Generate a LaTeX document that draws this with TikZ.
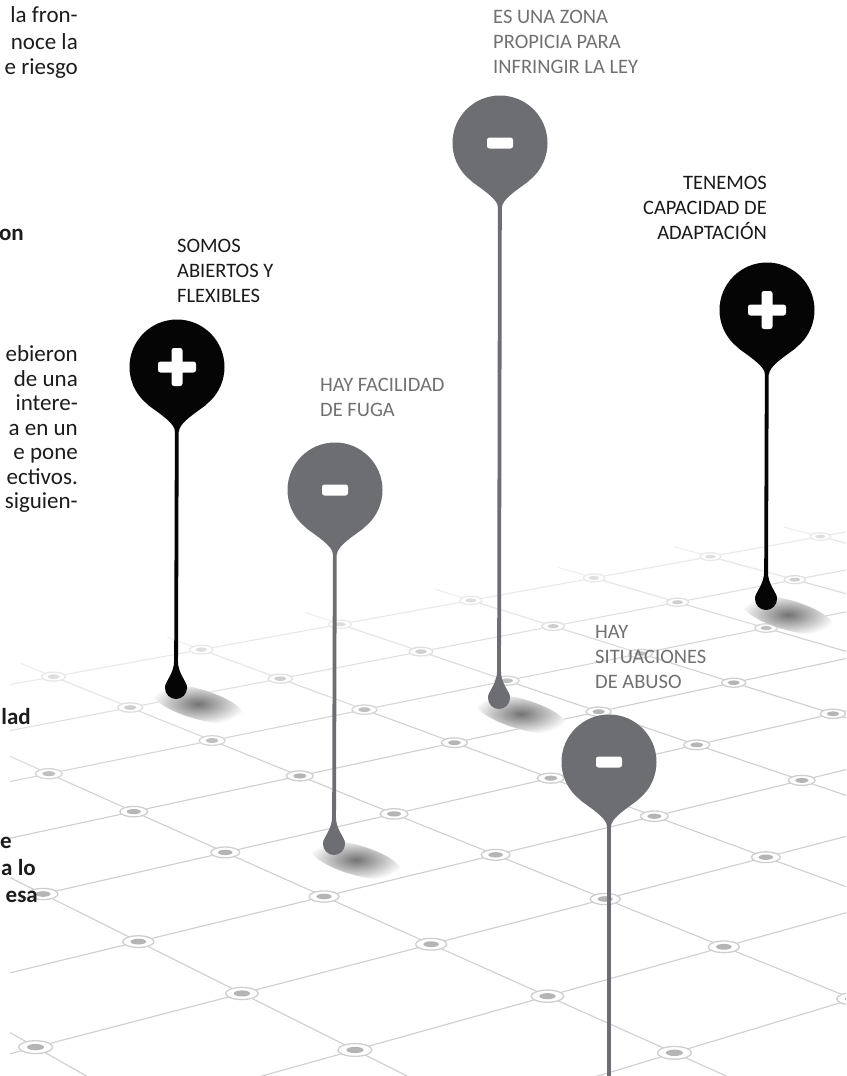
\documentclass[tikz,border=0pt]{standalone}
\usepackage{fontspec}
\setmainfont{Carlito}
\usetikzlibrary{positioning}

\definecolor{pinblack}{HTML}{050505}
\definecolor{pingray}{HTML}{6D6E71}
\definecolor{tagblack}{HTML}{1A1A1A}
\definecolor{taggray}{HTML}{707173}
\definecolor{gridline}{HTML}{CFCFCF}
\definecolor{gridmark}{HTML}{B5B5B5}
\definecolor{bodytext}{HTML}{1C1C1C}

\newcommand\headneck[2]{%
  \fill[#2] (#1.232) .. controls ([xshift=10pt,yshift=-8pt]#1.232) and ([xshift=-1.9pt,yshift=-8pt]#1.south)
    .. ([xshift=-1.9pt,yshift=-17pt]#1.south) -- ([xshift=1.9pt,yshift=-17pt]#1.south)
    .. controls ([xshift=1.9pt,yshift=-8pt]#1.south) and ([xshift=-10pt,yshift=-8pt]#1.308) .. (#1.308) -- cycle;}
\newcommand\dropneck[2]{%
  \fill[#2] ([xshift=-1.9pt,yshift=27pt]#1.center) .. controls ([xshift=-1.9pt,yshift=14pt]#1.center) and ([xshift=-11pt,yshift=7pt]#1.center) .. ([xshift=-11pt]#1.center)
    -- ([xshift=11pt]#1.center) .. controls ([xshift=11pt,yshift=7pt]#1.center) and ([xshift=1.9pt,yshift=14pt]#1.center) .. ([xshift=1.9pt,yshift=27pt]#1.center) -- cycle;}

\begin{document}
\begin{tikzpicture}[x=1pt, y=-1pt,
    head/.style={circle, minimum size=95pt, inner sep=0pt},
    poshead/.style={head, fill=pinblack, path picture={
        \fill[white, rounded corners=2.5pt] ([xshift=-19pt, yshift=-5.5pt]path picture bounding box.center) rectangle ++(38pt,11pt);
        \fill[white, rounded corners=2.5pt] ([xshift=-5.5pt, yshift=-19pt]path picture bounding box.center) rectangle ++(11pt,38pt);}},
    neghead/.style={head, fill=pingray, path picture={
        \fill[white, rounded corners=2.5pt] ([xshift=-13pt, yshift=-5.5pt]path picture bounding box.center) rectangle ++(26pt,11pt);}},
    pinend/.style={circle, minimum size=22pt, inner sep=0pt, fill=#1},
    stemline/.style={line width=3.8pt, draw=#1},
    pintext/.style={font=\fontsize{20.5}{25}\selectfont, inner sep=0pt, align=#1},
    bodyline/.style={font=\fontsize{23}{25}\selectfont, text=bodytext, inner sep=0pt, anchor=base east},
    boldline/.style={bodyline, font=\fontsize{23}{25}\selectfont\bfseries},
    gridl/.style={draw=gridline!#1!white, line width=1.1pt},
    ring/.style={draw=gridline!#1!white, line width=1.3pt, fill=white},
    ringmark/.style={fill=gridmark!#1!white},
    dropshade/.style={inner color=black!55, outer color=white}
  ]
  \useasboundingbox (0,0) rectangle (846,1076);
  \fill[white] (0,0) rectangle (846,1076);

  % floor grid
  \begin{scope}
    \clip (10,0) rectangle (846,1076);
    \foreach \a in {0,...,12}
      \foreach \b in {0,...,11} {
        \pgfmathsetmacro\gi{\a-2}
        \pgfmathsetmacro\gj{\b==0 ? -4.45 : \b-5}
        \pgfmathsetmacro\gw{1+0.04*\gi-0.04*\gj}
        \coordinate (g-\a-\b) at ({(191.3*\gi+89.8*\gj+43)/\gw}, {(-7.5*\gi+10*\gj+894)/\gw});
      }
    \foreach \b/\p in {1/45,2/65,3/85,4/100,5/100,6/100,7/100,8/100,9/100,10/100}
      \draw[gridl=\p] (g-0-\b) -- (g-12-\b);
    \foreach \a in {0,...,12}
      \foreach \b/\p in {0/35,1/55,2/75,3/95,4/100,5/100,6/100,7/100,8/100,9/100,10/100} {
        \pgfmathtruncatemacro\c{\b+1}
        \draw[gridl=\p] (g-\a-\b) -- (g-\a-\c);
      }
    \foreach \a in {1,...,11}
      \foreach \b/\p in {1/45,2/65,3/85,4/100,5/100,6/100,7/100,8/100,9/100,10/100} {
        \pgfmathsetmacro\gw{1+0.04*(\a-2)-0.04*(\b-5)}
        \pgfmathsetmacro\rx{15/\gw}
        \pgfmathsetmacro\ry{5.6/\gw}
        \path[ring=\p] (g-\a-\b) ellipse [x radius=\rx pt, y radius=\ry pt];
        \fill[ringmark=\p] (g-\a-\b) ellipse [x radius=0.5*\rx pt, y radius=0.5*\ry pt];
      }
  \end{scope}

  \foreach \x/\y in {176/688, 334/844, 499/698, 766/599}
    \shade[dropshade, rotate around={-16:(\x+22,\y+16)}] (\x+22,\y+16) ellipse [x radius=48pt, y radius=15pt];

  \node[poshead] (somos) at (177,367) {};
  \node[neghead] (fuga) at (335,490) {};
  \node[neghead] (zona) at (500,143) {};
  \node[poshead] (adapt) at (767,310) {};
  \node[neghead] (abuso) at (609,762) {};

  \node[pinend=pinblack] (somosEnd) at (176,688) {};
  \node[pinend=pingray] (fugaEnd) at (334,844) {};
  \node[pinend=pingray] (zonaEnd) at (499,698) {};
  \node[pinend=pinblack] (adaptEnd) at (766,599) {};
  \coordinate (abusoEnd) at (609,1076);

  \headneck{somos}{pinblack}
  \headneck{fuga}{pingray}
  \headneck{zona}{pingray}
  \headneck{adapt}{pinblack}
  \headneck{abuso}{pingray}
  \dropneck{somosEnd}{pinblack}
  \dropneck{fugaEnd}{pingray}
  \dropneck{zonaEnd}{pingray}
  \dropneck{adaptEnd}{pinblack}

  \draw[stemline=pinblack] (somos) -- (somosEnd);
  \draw[stemline=pingray] (fuga) -- (fugaEnd);
  \draw[stemline=pingray] (zona) -- (zonaEnd);
  \draw[stemline=pinblack] (adapt) -- (adaptEnd);
  \draw[stemline=pingray] (abuso) -- (abusoEnd);

  \node[pintext=left, text=tagblack, anchor=north west] (somosTxt) at (177,239.4) {SOMOS\\ABIERTOS Y\\FLEXIBLES};
  \node[pintext=left, text=taggray, anchor=north west] (fugaTxt) at (320,378.4) {HAY FACILIDAD\\DE FUGA};
  \node[pintext=left, text=taggray, anchor=north west] (zonaTxt) at (493,10.4) {ES UNA ZONA\\PROPICIA PARA\\INFRINGIR LA LEY};
  \node[pintext=right, text=tagblack, anchor=north east] (adaptTxt) at (767,176.4) {TENEMOS\\CAPACIDAD DE\\ADAPTACIÓN};
  \node[pintext=left, text=taggray, anchor=north west] (abusoTxt) at (595,625.4) {HAY\\SITUACIONES\\DE ABUSO};

  % cut-off page text on the left
  \node[bodyline] (fron) at (78,23) {la fron-};
  \node[bodyline] (noce) at (78,49) {noce la};
  \node[bodyline] (riesgo) at (78,74) {e riesgo};
  \node[boldline] (on) at (24,240) {on};
  \node[bodyline] (ebieron) at (78,361) {ebieron};
  \node[bodyline] (deuna) at (78,386) {de una};
  \node[bodyline] (intere) at (78,410) {intere-};
  \node[bodyline] (enun) at (78,435) {a en un};
  \node[bodyline] (pone) at (78,459) {e pone};
  \node[bodyline] (ectivos) at (78,484) {ectivos.};
  \node[bodyline] (siguien) at (78,508) {siguien-};
  \node[boldline] (lad) at (31,724) {lad};
  \node[boldline] (ee) at (12,848) {e};
  \node[boldline] (alo) at (36,875) {a lo};
  \node[boldline] (esa) at (38,902) {esa};
\end{tikzpicture}
\end{document}
